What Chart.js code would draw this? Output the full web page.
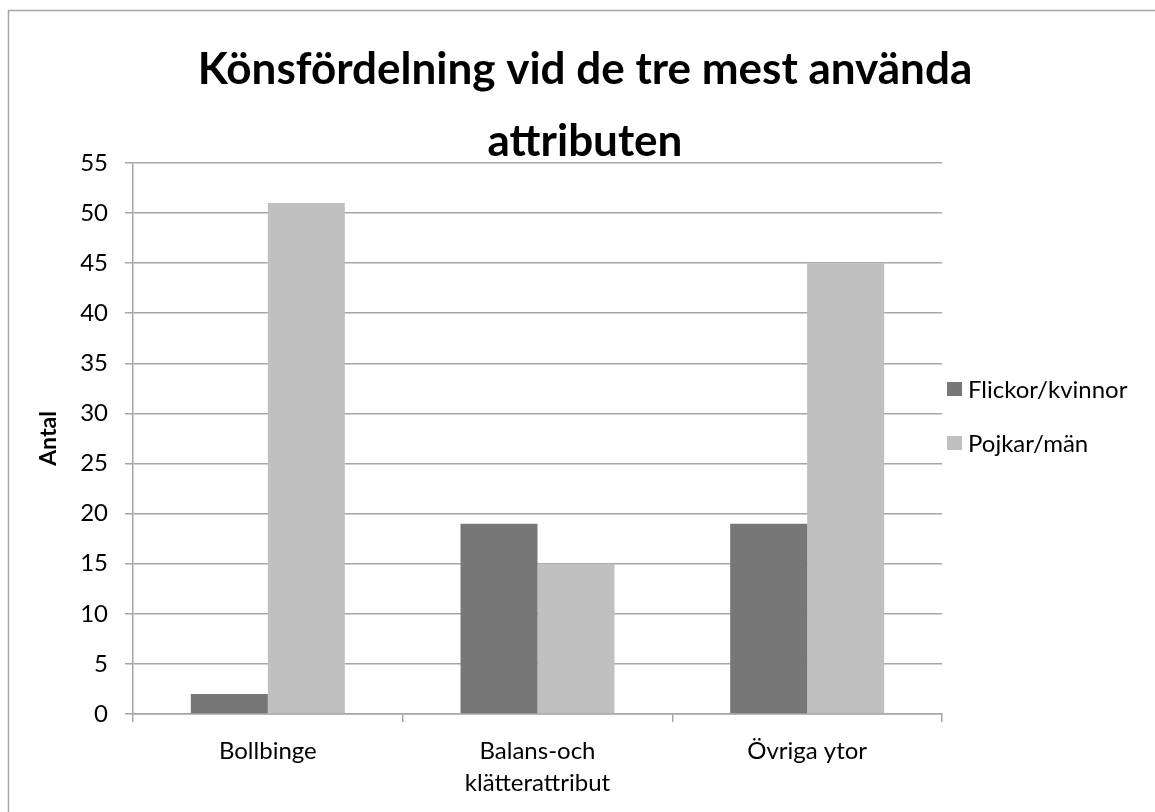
<!DOCTYPE html>
<html>
<head>
<meta charset="utf-8">
<script src="https://cdn.jsdelivr.net/npm/chart.js@4.4.0/dist/chart.umd.min.js"></script>
<style>
    html, body { margin: 0; padding: 0; background: #fff; overflow: hidden; }
    #wrap { width: 1170px; height: 820px; position: relative; }
</style>
</head>
<body>
<div id="wrap"><canvas id="chartKon"></canvas></div>
<script>
// Data
const kategorier = ['Bollbinge', ['Balans-och', 'klätterattribut'], 'Övriga ytor'];
const flickor = [2, 19, 19];
const pojkar = [51, 15, 45];
const serieNamn = ['Flickor/kvinnor', 'Pojkar/män'];
const titelRader = ['Könsfördelning vid de tre mest använda', 'attributen'];
const yTitel = 'Antal';

const FONT = "Lato, 'Open Sans', sans-serif";
const GRID = '#a6a6a6';

// ram runt diagrammet
const ramPlugin = {
    id: 'ram',
    beforeDraw(chart) {
        const c = chart.ctx;
        c.save();
        c.strokeStyle = '#a6a6a6';
        c.lineWidth = 1.5;
        c.strokeRect(8.5, 10.5, 1200, 900);
        c.restore();
    }
};

// legend till höger om ritytan
const legendPlugin = {
    id: 'egenLegend',
    afterDraw(chart) {
        const c = chart.ctx;
        c.save();
        c.font = '24px ' + FONT;
        c.textBaseline = 'middle';
        chart.data.datasets.forEach((ds, i) => {
            const y = 389 + i * 54;
            c.fillStyle = ds.backgroundColor;
            c.fillRect(947, y - 7, 15, 14);
            c.fillStyle = '#000';
            c.fillText(ds.label, 968, y + 1);
        });
        c.restore();
    }
};

new Chart(document.getElementById('chartKon'), {
    type: 'bar',
    data: {
        labels: kategorier,
        datasets: [
            { label: serieNamn[0], data: flickor, backgroundColor: '#777777' },
            { label: serieNamn[1], data: pojkar, backgroundColor: '#c0c0c0' }
        ]
    },
    options: {
        responsive: true,
        maintainAspectRatio: false,
        animation: false,
        layout: { padding: 0 },
        datasets: { bar: { barPercentage: 1, categoryPercentage: 0.571 } },
        scales: {
            x: {
                grid: { drawOnChartArea: false, color: GRID, tickLength: 8, offset: true, lineWidth: 1.5 },
                border: { color: GRID, width: 1.5 },
                ticks: { color: '#000', font: { family: FONT, size: 24, lineHeight: 1.35 }, padding: 13, maxRotation: 0 },
                afterFit: s => { s.height = 820 - 714; }
            },
            y: {
                min: 0, max: 55,
                grid: { color: GRID, tickLength: 8, lineWidth: 1.5 },
                border: { color: GRID, width: 1.5 },
                ticks: { stepSize: 5, color: '#000', font: { family: FONT, size: 24 }, padding: 17 },
                title: { display: true, text: yTitel, color: '#000', font: { family: FONT, size: 23, weight: 'bold' }, padding: { top: 35, bottom: 0 } },
                afterFit: s => { s.width = 133; }
            },
            // tom skala som ger plats åt legenden
            hoger: {
                position: 'right',
                grid: { display: false },
                border: { display: false },
                ticks: { display: false },
                afterFit: s => { s.width = 1170 - 942; }
            }
        },
        plugins: {
            legend: { display: false },
            tooltip: { enabled: false },
            title: {
                display: true,
                text: titelRader,
                color: '#000',
                font: { family: FONT, size: 44, weight: 'bold', lineHeight: 1.636 },
                padding: { top: 34, bottom: -15 }
            }
        }
    },
    plugins: [ramPlugin, legendPlugin]
});
</script>
</body>
</html>
